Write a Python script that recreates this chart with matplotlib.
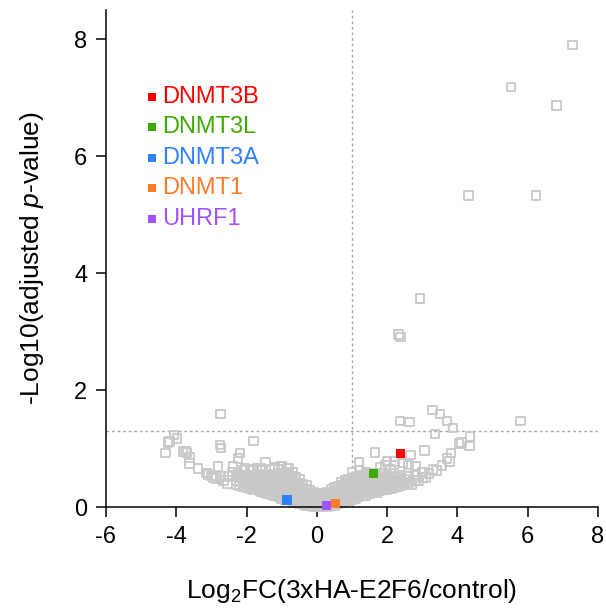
import matplotlib
matplotlib.use("Agg")
import matplotlib.pyplot as plt
import numpy as np

plt.rcParams['font.family'] = ['Liberation Sans', 'DejaVu Sans']
plt.rcParams['mathtext.fontset'] = 'custom'
plt.rcParams['mathtext.rm'] = 'Liberation Sans'
plt.rcParams['mathtext.it'] = 'Liberation Sans:italic'
plt.rcParams['axes.unicode_minus'] = False

# scattered proteins (log2FC, -log10 adj. p)
outlier_pts = [
    (7.27, 7.90), (5.52, 7.18), (6.82, 6.87), (4.31, 5.33), (6.23, 5.33),
    (2.93, 3.57), (2.32, 2.95), (2.38, 2.91),
    (3.29, 1.66), (3.51, 1.59), (3.70, 1.47), (3.87, 1.35), (2.37, 1.47),
    (2.63, 1.45), (5.80, 1.47), (3.36, 1.25), (4.36, 1.21), (4.05, 1.09),
    (4.12, 1.10), (4.34, 1.04), (3.82, 0.92), (3.78, 0.78), (3.56, 0.71),
    (3.70, 0.83), (3.40, 0.62), (3.19, 0.57), (3.06, 0.97), (1.66, 0.93),
    (1.20, 0.77), (2.67, 0.89), (2.45, 0.75), (2.00, 0.78), (2.20, 0.72),
    (2.60, 0.72), (2.80, 0.70), (3.00, 0.60), (3.30, 0.64), (2.20, 0.78),
    (1.00, 0.60), (1.20, 0.62), (1.40, 0.60), (1.80, 0.68), (1.95, 0.72),
    (2.10, 0.65), (3.10, 0.50), (2.90, 0.45), (2.70, 0.38),
    (-2.74, 1.59), (-4.30, 0.92), (-4.19, 1.12), (-4.07, 1.23), (-3.98, 1.17),
    (-4.24, 1.10), (-3.81, 0.95), (-3.73, 0.95), (-3.69, 0.93), (-3.62, 0.85),
    (-3.62, 0.74), (-3.38, 0.66), (-3.14, 0.58), (-3.10, 0.56), (-2.86, 0.49),
    (-2.76, 1.06), (-2.73, 1.01), (-2.81, 0.69), (-2.76, 0.52), (-2.48, 0.52),
    (-2.38, 0.69), (-2.24, 0.83), (-2.19, 0.92), (-2.24, 0.58), (-1.81, 1.13),
    (-1.46, 0.77), (-2.05, 0.66), (-1.90, 0.62), (-1.70, 0.66), (-1.55, 0.62),
    (-1.20, 0.68), (-1.00, 0.70), (-0.85, 0.66), (-2.55, 0.40), (-2.65, 0.45),
    (-2.95, 0.50), (-3.00, 0.53), (-2.10, 0.62), (-1.80, 0.64), (-1.60, 0.66),
    (-1.35, 0.65), (-1.10, 0.64), (-0.80, 0.66), (-0.70, 0.60), (-2.40, 0.60),
]

# dense core of the volcano, one column per 0.1 log2FC
cloud_cols = {
    -2.3: [0.38, 0.45, 0.51],
    -2.2: [0.37, 0.44, 0.50, 0.55],
    -2.1: [0.35, 0.42, 0.49, 0.54],
    -2.0: [0.33, 0.40, 0.47, 0.53],
    -1.9: [0.32, 0.39, 0.46, 0.52, 0.55],
    -1.8: [0.30, 0.37, 0.44, 0.51, 0.55],
    -1.7: [0.29, 0.36, 0.43, 0.50, 0.55],
    -1.6: [0.26, 0.33, 0.40, 0.47, 0.54],
    -1.5: [0.25, 0.32, 0.39, 0.46, 0.53],
    -1.4: [0.23, 0.30, 0.37, 0.44, 0.51, 0.56],
    -1.3: [0.21, 0.28, 0.35, 0.42, 0.49, 0.55],
    -1.2: [0.19, 0.26, 0.33, 0.40, 0.47, 0.54],
    -1.1: [0.17, 0.24, 0.31, 0.38, 0.45, 0.52, 0.57],
    -1.0: [0.15, 0.22, 0.29, 0.36, 0.43, 0.50, 0.56],
    -0.9: [0.13, 0.20, 0.27, 0.34, 0.41, 0.48, 0.55],
    -0.8: [0.12, 0.19, 0.26, 0.33, 0.40, 0.47, 0.54, 0.58],
    -0.7: [0.10, 0.17, 0.24, 0.31, 0.38, 0.45, 0.52],
    -0.6: [0.08, 0.15, 0.22, 0.29, 0.36, 0.43, 0.50],
    -0.5: [0.06, 0.13, 0.20, 0.27, 0.34, 0.41, 0.47],
    -0.4: [0.04, 0.11, 0.18, 0.25, 0.32, 0.39],
    -0.3: [0.03, 0.10, 0.17, 0.24, 0.31, 0.37],
    -0.2: [0.02, 0.08, 0.15, 0.22, 0.28],
    -0.1: [0.01, 0.07, 0.14, 0.20, 0.25],
    0.0: [0.00, 0.06, 0.12, 0.18, 0.23],
    0.1: [0.00, 0.06, 0.12, 0.18, 0.22],
    0.2: [0.00, 0.06, 0.12, 0.18, 0.24],
    0.3: [0.01, 0.07, 0.13, 0.19, 0.25],
    0.4: [0.02, 0.08, 0.14, 0.20, 0.26, 0.30],
    0.5: [0.03, 0.09, 0.15, 0.21, 0.27, 0.33],
    0.6: [0.05, 0.11, 0.17, 0.23, 0.29, 0.35],
    0.7: [0.07, 0.13, 0.19, 0.25, 0.31, 0.37, 0.42],
    0.8: [0.09, 0.15, 0.21, 0.27, 0.33, 0.39, 0.45],
    0.9: [0.11, 0.17, 0.23, 0.29, 0.35, 0.41, 0.47],
    1.0: [0.13, 0.19, 0.25, 0.31, 0.37, 0.43, 0.49],
    1.1: [0.15, 0.21, 0.27, 0.33, 0.39, 0.45, 0.51],
    1.2: [0.17, 0.23, 0.29, 0.35, 0.41, 0.47, 0.53],
    1.3: [0.19, 0.25, 0.31, 0.37, 0.43, 0.49, 0.54],
    1.4: [0.20, 0.26, 0.32, 0.38, 0.44, 0.50, 0.55],
    1.5: [0.22, 0.28, 0.34, 0.40, 0.46, 0.52, 0.57],
    1.6: [0.24, 0.30, 0.36, 0.42, 0.48, 0.54],
    1.7: [0.25, 0.31, 0.37, 0.43, 0.49, 0.55],
    1.8: [0.27, 0.33, 0.39, 0.45, 0.51, 0.57],
    1.9: [0.29, 0.35, 0.41, 0.47, 0.53],
    2.0: [0.30, 0.36, 0.42, 0.48, 0.54],
    2.1: [0.32, 0.38, 0.44, 0.50],
    2.2: [0.33, 0.39, 0.45, 0.52],
    2.3: [0.35, 0.42, 0.50],
    2.4: [0.37, 0.45, 0.55],
    2.5: [0.39, 0.48],
    2.6: [0.42, 0.52],
    2.8: [0.45, 0.55],
    3.0: [0.50],
}

genes = ['DNMT3B', 'DNMT3L', 'DNMT3A', 'DNMT1', 'UHRF1']
gene_fc = [2.38, 1.62, -0.85, 0.52, 0.28]
gene_p = [0.91, 0.57, 0.12, 0.06, 0.02]
gene_colors = ['#ff0000', '#3caa00', '#2f80ff', '#ff7a2a', '#a052ff']

gray_x = [p[0] for p in outlier_pts]
gray_y = [p[1] for p in outlier_pts]
for cx, ys in cloud_cols.items():
    for cy in ys:
        gray_x.append(cx)
        gray_y.append(cy)

fig = plt.figure(figsize=(6.06, 6.10), dpi=100)
ax = fig.add_axes([106 / 606, 103 / 610, 492 / 606, 497 / 610])

ax.scatter(gray_x, gray_y, marker='s', s=38, facecolors='none',
           edgecolors='#c8c8c8', linewidths=1.3, clip_on=False, zorder=2)
ax.scatter(gene_fc, gene_p, marker='s', s=44, c=gene_colors,
           linewidths=0, clip_on=False, zorder=3)

ax.axvline(1, color='#a8a8a8', lw=1, ls=(0, (2, 2)), zorder=1)
ax.axhline(-np.log10(0.05), color='#a8a8a8', lw=1, ls=(0, (2, 2)), zorder=1)

# legend as coloured labels
for i, (g, col) in enumerate(zip(genes, gene_colors)):
    yy = 0.8256 - i * 0.0615
    ax.scatter([0.0935], [yy], marker='s', s=40, c=col, linewidths=0,
               transform=ax.transAxes, clip_on=False)
    ax.text(0.114, yy, g, color=col, fontsize=17, va='center', ha='left',
            transform=ax.transAxes)

ax.set_xlim(-6, 8)
ax.set_ylim(0, 8.5)
ax.set_xticks(np.arange(-6, 9, 2))
ax.set_yticks(np.arange(0, 9, 2))
ax.spines['top'].set_visible(False)
ax.spines['right'].set_visible(False)
for sp in ['left', 'bottom']:
    ax.spines[sp].set_linewidth(1.1)
ax.tick_params(axis='both', length=7.5, width=1.1, labelsize=17, pad=6)

ax.set_xlabel('Log$_2$FC(3xHA-E2F6/control)', fontsize=19, labelpad=21)
ax.set_ylabel('-Log10(adjusted $\\mathit{p}$-value)', fontsize=19, labelpad=20)

fig.savefig('out.png', dpi=100)
